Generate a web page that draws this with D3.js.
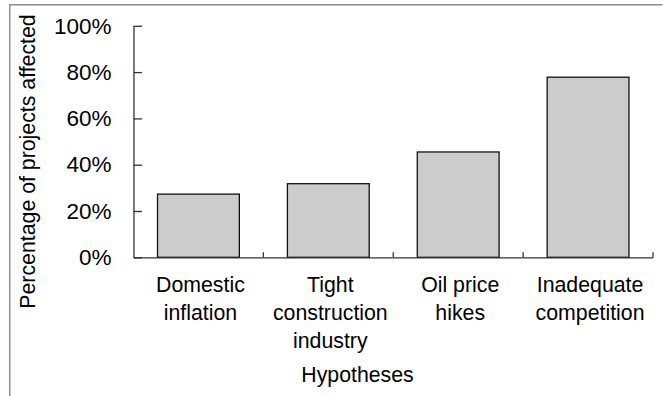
<!DOCTYPE html>
<html>
<head>
<meta charset="utf-8">
<script src="https://cdn.jsdelivr.net/npm/d3@7"></script>
<style>
  html, body { margin: 0; padding: 0; background: #fff; }
  svg { display: block; font-family: "Liberation Sans", Arial, sans-serif; }
</style>
</head>
<body>
<svg id="chart" width="663" height="396"></svg>
<script>
// ---- data ----
const categories = ["Domestic inflation", "Tight construction industry", "Oil price hikes", "Inadequate competition"];
const categoryLines = [["Domestic", "inflation"], ["Tight", "construction", "industry"], ["Oil price", "hikes"], ["Inadequate", "competition"]];
const values = [0.273, 0.318, 0.455, 0.778];
const yTicks = [0, 0.2, 0.4, 0.6, 0.8, 1.0];
const yTitle = "Percentage of projects affected";
const xTitle = "Hypotheses";

// ---- layout ----
const svg = d3.select("#chart");
const plot = { left: 133.5, right: 653, top: 25.8, bottom: 257.3 };

// outer frame (top and left edges)
svg.append("path")
  .attr("d", "M9.8,396 V4.8 H662.5")
  .attr("fill", "none")
  .attr("stroke", "#8a8a8a")
  .attr("stroke-width", 1.4);

const x = d3.scaleBand()
  .domain(categories)
  .range([plot.left, plot.right])
  .paddingInner(0.37)
  .paddingOuter(0.185);

const y = d3.scaleLinear()
  .domain([0, 1])
  .range([plot.bottom, plot.top]);

// bars
svg.append("g").selectAll("rect")
  .data(values)
  .join("rect")
  .attr("x", (d, i) => x(categories[i]))
  .attr("y", d => y(d))
  .attr("width", x.bandwidth())
  .attr("height", d => y(0) - y(d))
  .attr("fill", "#cccccc")
  .attr("stroke", "#111")
  .attr("stroke-width", 1.3);

// y axis
const yAxis = svg.append("g")
  .attr("transform", `translate(${plot.left},0)`)
  .call(d3.axisLeft(y)
    .tickValues(yTicks)
    .tickFormat(d3.format(".0%"))
    .tickSizeInner(-8.5)
    .tickSizeOuter(0)
    .tickPadding(22));
yAxis.select(".domain").attr("stroke", "#333").attr("stroke-width", 1.3);
yAxis.selectAll(".tick line").attr("stroke", "#333").attr("stroke-width", 1.3);
yAxis.selectAll(".tick text")
  .attr("font-size", 22.5)
  .attr("fill", "#000")
  .attr("font-family", "Liberation Sans, Arial, sans-serif");

// x axis baseline
const xAxis = svg.append("g")
  .attr("transform", `translate(0,${plot.bottom})`)
  .call(d3.axisBottom(x).tickSize(0).tickFormat(""));
xAxis.select(".domain").attr("stroke", "#333").attr("stroke-width", 1.3);

// category boundary ticks (upward)
const step = x.step();
const boundaries = categories.map(c => x(c) + x.bandwidth() + step * x.paddingInner() / 2);
xAxis.selectAll("line.bound")
  .data(boundaries)
  .join("line")
  .attr("class", "bound")
  .attr("x1", d => d).attr("x2", d => d)
  .attr("y1", 0).attr("y2", -5)
  .attr("stroke", "#333")
  .attr("stroke-width", 1.3);

// category labels
const labels = svg.append("g")
  .attr("font-size", 21.3)
  .attr("fill", "#000")
  .attr("text-anchor", "middle");
categories.forEach((c, i) => {
  const t = labels.append("text")
    .attr("x", x(c) + x.bandwidth() / 2 + 2)
    .attr("y", 291.5);
  categoryLines[i].forEach((line, j) => {
    t.append("tspan")
      .attr("x", x(c) + x.bandwidth() / 2 + 2)
      .attr("dy", j === 0 ? 0 : 28)
      .text(line);
  });
});

// axis titles
svg.append("text")
  .attr("x", 357.5)
  .attr("y", 381.5)
  .attr("text-anchor", "middle")
  .attr("font-size", 21.3)
  .attr("fill", "#000")
  .text(xTitle);

svg.append("text")
  .attr("transform", "translate(34.5,161.5) rotate(-90)")
  .attr("text-anchor", "middle")
  .attr("font-size", 21.3)
  .attr("fill", "#000")
  .text(yTitle);
</script>
</body>
</html>
